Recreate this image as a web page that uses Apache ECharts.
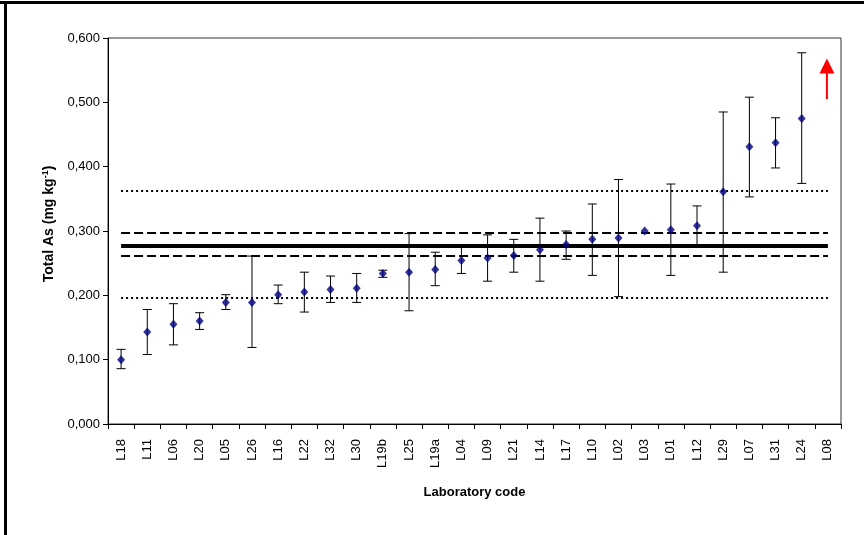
<!DOCTYPE html>
<html><head><meta charset="utf-8">
<script src="https://cdn.jsdelivr.net/npm/echarts@6/dist/echarts.min.js"></script>
<style>html,body{margin:0;padding:0;background:#fff}#chart{width:864px;height:535px}</style>
</head><body><div id="chart"></div>
<script>
// Laboratory codes, ordered by reported result
const labs = ['L18','L11','L06','L20','L05','L26','L16','L22','L32','L30','L19b','L25','L19a','L04','L09','L21','L14','L17','L10','L02','L03','L01','L12','L29','L07','L31','L24','L08'];
// Reported total As (mg/kg); L08 lies off the scale
const results = [0.100,0.143,0.155,0.160,0.189,0.189,0.201,0.205,0.209,0.211,0.234,0.236,0.240,0.254,0.258,0.262,0.271,0.279,0.287,0.289,0.300,0.302,0.308,0.361,0.431,0.437,0.475,null];
// Expanded uncertainty limits of each result
const lowerLimits = [0.086,0.108,0.123,0.147,0.178,0.119,0.187,0.174,0.189,0.189,0.228,0.176,0.215,0.234,0.222,0.236,0.222,0.256,0.231,0.198,null,0.231,0.277,0.236,0.353,0.398,0.374,null];
const upperLimits = [0.116,0.178,0.187,0.173,0.201,0.261,0.216,0.236,0.230,0.234,0.239,0.296,0.267,0.277,0.294,0.287,0.320,0.300,0.342,0.380,null,0.373,0.339,0.485,0.508,0.476,0.577,null];
// Assigned value, its uncertainty band and the target range
const assignedValue = 0.277;
const assignedBand = [0.261, 0.297];
const targetRange = [0.196, 0.362];
// Off-scale marker for L08
const offScaleLab = 'L08';
const offScaleArrow = [0.505, 0.568];
// Y-axis ticks
const yMin = 0, yMax = 0.6, yStep = 0.1;

const font = 'Liberation Sans, Arial, sans-serif';
const chart = echarts.init(document.getElementById('chart'));

function hLine(v, style) {
  return [{ coord: [labs[0], v], lineStyle: style }, { coord: [labs[labs.length - 1], v] }];
}

const errData = labs.map((l, i) => [i, lowerLimits[i], upperLimits[i]]).filter(d => d[1] != null);

chart.setOption({
  animation: false,
  backgroundColor: '#fff',
  grid: { left: 108, right: 23, top: 38, bottom: 111, show: true, borderColor: '#333', borderWidth: 1, backgroundColor: 'transparent' },
  graphic: [
    { type: 'rect', shape: { x: 0, y: 1, width: 864, height: 3 }, style: { fill: '#000' } },
    { type: 'rect', shape: { x: 4, y: 1, width: 3, height: 534 }, style: { fill: '#000' } }
  ],
  xAxis: {
    type: 'category', data: labs, boundaryGap: true,
    axisLine: { lineStyle: { color: '#000', width: 1 } },
    axisTick: { show: true, length: 5, inside: false, lineStyle: { color: '#000' } },
    axisLabel: { rotate: 90, fontFamily: font, fontSize: 13, color: '#000', margin: 15, interval: 0 },
    name: 'Laboratory code', nameLocation: 'middle', nameGap: 62,
    nameTextStyle: { fontFamily: font, fontSize: 13, fontWeight: 'bold', color: '#000' },
    splitLine: { show: false }
  },
  yAxis: {
    type: 'value', min: yMin, max: yMax, interval: yStep,
    axisLine: { show: true, lineStyle: { color: '#000', width: 1 } },
    axisTick: { show: true, length: 5, inside: false, lineStyle: { color: '#000' } },
    axisLabel: { fontFamily: font, fontSize: 13, color: '#000', margin: 8,
      formatter: v => v.toFixed(3).replace('.', ',') },
    splitLine: { show: false },
    name: '{t|Total As (mg kg}{s|-1}{t|)}', nameLocation: 'middle', nameRotate: 90, nameGap: 45,
    nameTextStyle: {
      padding: [0, 0, 0, 14],
      rich: {
        t: { fontFamily: font, fontSize: 14, fontWeight: 'bold', color: '#000' },
        s: { fontFamily: font, fontSize: 9, fontWeight: 'bold', color: '#000', verticalAlign: 'top', padding: [0, 0, 8, 0] }
      }
    }
  },
  series: [
    {
      type: 'custom', name: 'uncertainty', z: 3,
      data: errData,
      renderItem: (params, api) => {
        const lo = api.coord([api.value(0), api.value(1)]);
        const hi = api.coord([api.value(0), api.value(2)]);
        const x = lo[0], w = 4.5;
        const st = { stroke: '#000', lineWidth: 1 };
        return { type: 'group', children: [
          { type: 'line', shape: { x1: x, y1: lo[1], x2: x, y2: hi[1] }, style: st },
          { type: 'line', shape: { x1: x - w, y1: lo[1], x2: x + w, y2: lo[1] }, style: st },
          { type: 'line', shape: { x1: x - w, y1: hi[1], x2: x + w, y2: hi[1] }, style: st }
        ]};
      }
    },
    {
      type: 'scatter', name: 'result', z: 5,
      data: results,
      symbol: 'diamond', symbolSize: [8, 9],
      itemStyle: { color: '#000080' },
      markLine: {
        silent: true, symbol: 'none', label: { show: false }, z: 2,
        data: [
          hLine(targetRange[1], { type: [2, 3], width: 2, color: '#000' }),
          hLine(targetRange[0], { type: [2, 3], width: 2, color: '#000' }),
          hLine(assignedBand[1], { type: [9, 4], width: 2, color: '#000' }),
          hLine(assignedBand[0], { type: [9, 4], width: 2, color: '#000' }),
          hLine(assignedValue, { type: 'solid', width: 4, color: '#000' })
        ]
      }
    },
    {
      type: 'custom', name: 'off scale', z: 6,
      data: [[labs.indexOf(offScaleLab), offScaleArrow[0], offScaleArrow[1]]],
      renderItem: (params, api) => {
        const b = api.coord([api.value(0), api.value(1)]);
        const t = api.coord([api.value(0), api.value(2)]);
        const x = b[0] - 1;
        const head = 15;
        return { type: 'group', children: [
          { type: 'rect', shape: { x: x - 1, y: t[1] + head - 1, width: 2, height: b[1] - t[1] - head + 1 }, style: { fill: '#ff0000' } },
          { type: 'polygon', shape: { points: [[x, t[1]], [x - 7.5, t[1] + head], [x + 7.5, t[1] + head]] }, style: { fill: '#ff0000' } }
        ]};
      }
    }
  ]
});
</script></body></html>
